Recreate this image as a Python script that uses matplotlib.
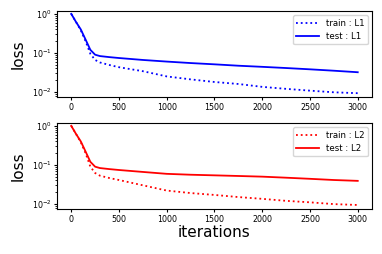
import matplotlib
matplotlib.use("Agg")
import matplotlib.pyplot as plt

iters = [0, 50, 100, 150, 200, 250, 300, 400, 500, 750, 1000, 1250, 1500,
         1750, 2000, 2250, 2500, 2750, 3000]

train_l1 = [1.0, 0.62, 0.38, 0.20, 0.095, 0.066, 0.057, 0.049, 0.043, 0.034,
            0.025, 0.021, 0.018, 0.016, 0.0135, 0.012, 0.0108, 0.0098, 0.0093]
test_l1 = [1.0, 0.62, 0.40, 0.22, 0.12, 0.09, 0.083, 0.078, 0.074, 0.066,
           0.060, 0.055, 0.051, 0.047, 0.044, 0.041, 0.038, 0.035, 0.032]

train_l2 = [1.0, 0.62, 0.38, 0.20, 0.09, 0.062, 0.053, 0.046, 0.041, 0.030,
            0.022, 0.019, 0.017, 0.015, 0.0135, 0.012, 0.011, 0.0099, 0.0094]
test_l2 = [1.0, 0.62, 0.40, 0.22, 0.12, 0.09, 0.083, 0.078, 0.074, 0.066,
           0.059, 0.056, 0.054, 0.052, 0.050, 0.047, 0.044, 0.041, 0.039]

fig, (ax1, ax2) = plt.subplots(2, 1, figsize=(3.82, 2.54), dpi=100)
fig.subplots_adjust(left=0.149, right=0.974, top=0.957, bottom=0.177, hspace=0.30)

ax1.plot(iters, train_l1, ':', color='blue', lw=1.3, label='train : L1')
ax1.plot(iters, test_l1, '-', color='blue', lw=1.3, label='test : L1')
ax2.plot(iters, train_l2, ':', color='red', lw=1.3, label='train : L2')
ax2.plot(iters, test_l2, '-', color='red', lw=1.3, label='test : L2')

for ax in (ax1, ax2):
    ax.set_yscale('log')
    ax.set_ylim(0.0074, 1.19)
    ax.set_ylabel('loss', fontsize=11, labelpad=4.5)
    ax.tick_params(labelsize=5.7, length=2.5, pad=1.5)
    ax.tick_params(which='minor', length=1.5)
    ax.legend(loc='upper right', fontsize=6.2, handlelength=2.6)

ax2.set_xlabel('iterations', fontsize=11, labelpad=1)

fig.savefig('out.png')
